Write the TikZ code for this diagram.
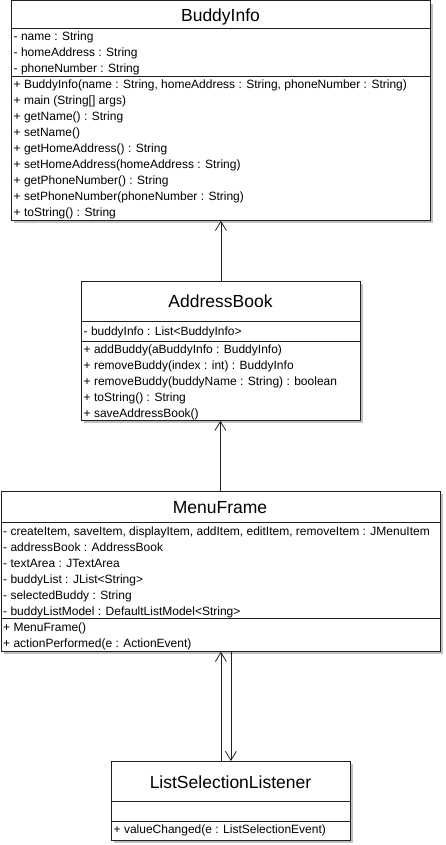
\documentclass[tikz,border=0pt]{standalone}
\usepackage{fontspec}
\setmainfont{Liberation Sans}
\usetikzlibrary{arrows.meta}
\definecolor{shadowc}{HTML}{C0C0C0}
\definecolor{linec}{HTML}{202020}
\begin{document}
\begin{tikzpicture}[x=1pt,y=-1pt,
  classbox/.style={draw=linec, fill=white, line width=0.8pt, inner sep=0pt, anchor=north west,
    preaction={fill=shadowc, draw=none, transform canvas={xshift=3pt,yshift=-3pt}}},
  sepline/.style={draw=linec, line width=0.8pt},
  ctitle/.style={anchor=base, inner sep=0pt, font=\fontsize{17.5}{20}\selectfont},
  member/.style={anchor=base west, inner sep=0pt, font=\fontsize{12}{16}\selectfont},
  assoc/.style={draw=linec, line width=0.8pt, -{Straight Barb[length=9pt,width=11pt,line width=0.8pt]}}]
\useasboundingbox (0,0) rectangle (445,845);

% ---------- BuddyInfo ----------
\node[classbox, minimum width=419pt, minimum height=219.5pt] (bi) at (11,0.5) {};
\draw[sepline] (11,28) -- (430,28);
\draw[sepline] (11,76) -- (430,76);
\node[ctitle] (bit) at (220.5,21.5) {BuddyInfo};
\node[member] (bia1) at (13.5,40.5) {- name : String};
\node[member] (bia2) at (13.5,56.5) {- homeAddress : String};
\node[member] (bia3) at (13.5,72.5) {- phoneNumber : String};
\node[member] (bim1) at (13.5,88.5) {+ BuddyInfo(name : String, homeAddress : String, phoneNumber : String)};
\node[member] (bim2) at (13.5,104.5) {+ main (String[] args)};
\node[member] (bim3) at (13.5,120.5) {+ getName() : String};
\node[member] (bim4) at (13.5,136.5) {+ setName()};
\node[member] (bim5) at (13.5,152.5) {+ getHomeAddress() : String};
\node[member] (bim6) at (13.5,168.5) {+ setHomeAddress(homeAddress : String)};
\node[member] (bim7) at (13.5,184.5) {+ getPhoneNumber() : String};
\node[member] (bim8) at (13.5,200.5) {+ setPhoneNumber(phoneNumber : String)};
\node[member] (bim9) at (13.5,216.5) {+ toString() : String};

% ---------- AddressBook ----------
\node[classbox, minimum width=279pt, minimum height=139pt] (ab) at (81,281) {};
\draw[sepline] (81,321) -- (360,321);
\draw[sepline] (81,341) -- (360,341);
\node[ctitle] (abt) at (220.5,307.7) {AddressBook};
\node[member] (aba1) at (83.5,335) {- buddyInfo : List<BuddyInfo>};
\node[member] (abm1) at (83.5,353.3) {+ addBuddy(aBuddyInfo : BuddyInfo)};
\node[member] (abm2) at (83.5,369.3) {+ removeBuddy(index : int) : BuddyInfo};
\node[member] (abm3) at (83.5,385.3) {+ removeBuddy(buddyName : String) : boolean};
\node[member] (abm4) at (83.5,401.3) {+ toString() : String};
\node[member] (abm5) at (83.5,417.3) {+ saveAddressBook()};

% ---------- MenuFrame ----------
\node[classbox, minimum width=439pt, minimum height=160pt] (mf) at (0.5,491) {};
\draw[sepline] (0.5,522.5) -- (439.5,522.5);
\draw[sepline] (0.5,618) -- (439.5,618);
\node[ctitle] (mft) at (220,513.3) {MenuFrame};
\node[member] (mfa1) at (3,535) {- createItem, saveItem, displayItem, addItem, editItem, removeItem : JMenuItem};
\node[member] (mfa2) at (3,551) {- addressBook : AddressBook};
\node[member] (mfa3) at (3,567) {- textArea : JTextArea};
\node[member] (mfa4) at (3,583) {- buddyList : JList<String>};
\node[member] (mfa5) at (3,599) {- selectedBuddy : String};
\node[member] (mfa6) at (3,615) {- buddyListModel : DefaultListModel<String>};
\node[member] (mfm1) at (3,631) {+ MenuFrame()};
\node[member] (mfm2) at (3,647) {+ actionPerformed(e : ActionEvent)};

% ---------- ListSelectionListener ----------
\node[classbox, minimum width=239pt, minimum height=79pt] (lsl) at (111,761) {};
\draw[sepline] (111,801) -- (350,801);
\draw[sepline] (111,821) -- (350,821);
\node[ctitle] (lslt) at (230.5,788.3) {ListSelectionListener};
\node[member] (lslm1) at (113.5,833.3) {+ valueChanged(e : ListSelectionEvent)};

% ---------- connectors ----------
\draw[assoc] (ab.north) -- (bi.south);
\draw[assoc] (mf.north) -- (mf.north |- ab.south);
\draw[assoc] ([xshift=-10pt]lsl.north) -- ([xshift=-10pt]lsl.north |- mf.south);
\draw[assoc] (lsl.north |- mf.south) -- (lsl.north);
\end{tikzpicture}
\end{document}
